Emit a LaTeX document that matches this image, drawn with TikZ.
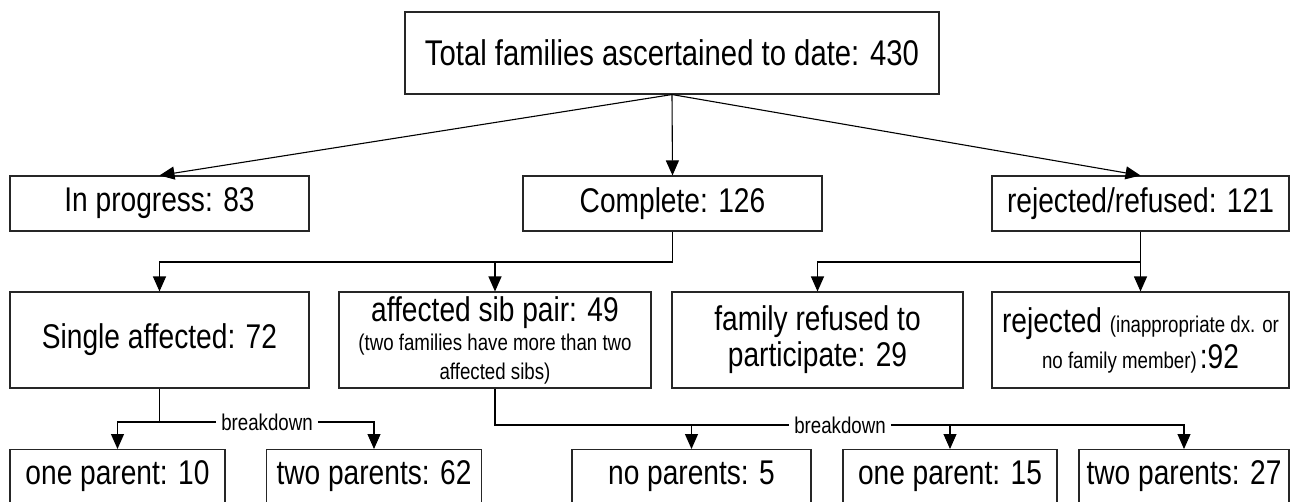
\documentclass[tikz,border=0pt]{standalone}
\usepackage{fontspec}
\setmainfont{Liberation Sans}[FakeStretch=0.82]
\usetikzlibrary{arrows.meta}
\newcommand{\bigf}{\fontsize{34.3}{36}\selectfont}
\newcommand{\topf}{\fontsize{35.7}{38}\selectfont}
\newcommand{\smallf}{\fontsize{22.8}{29}\selectfont}
\begin{document}
\begin{tikzpicture}[x=1pt,y=-1pt,
  box/.style={draw=black!85, line width=1.1pt, inner sep=0pt, align=center},
  lowbox/.style={box, anchor=north, minimum height=0pt, text height=35pt, text depth=45pt, font=\bigf},
  conn/.style={line width=1.1pt, draw=black},
  arr/.style={conn, -{Triangle[length=15pt,width=13pt]}},
  lbl/.style={fill=white, inner xsep=5pt, inner ysep=2pt, font=\smallf}]
\clip (0,0) rectangle (1290,501);
\fill[white] (0,0) rectangle (1290,501);
% top
\node[box, minimum width=534pt, minimum height=82pt, font=\topf] (top) at (672,53) {Total families ascertained to date: 430};
% row 2
\node[box, minimum width=299pt, minimum height=55pt, font=\bigf] (ip) at (159.5,203.5) {In progress: 83};
\node[box, minimum width=299pt, minimum height=55pt, font=\bigf] (comp) at (672.5,203.5) {Complete: 126};
\node[box, minimum width=297pt, minimum height=55pt, font=\bigf] (rr) at (1140.5,203.5) {rejected/refused: 121};
% row 3
\node[box, minimum width=299pt, minimum height=96pt, font=\bigf] (single) at (159.5,340) {Single affected: 72};
\node[box, minimum width=312pt, minimum height=96pt, font=\smallf] (sib) at (495,340) {{\fontsize{34.3}{29}\selectfont affected sib pair: 49}\\(two families have more than two\\affected sibs)};
\node[box, minimum width=291pt, minimum height=96pt, font=\bigf] (fam) at (817.5,340) {family refused to\\participate: 29};
\node[box, minimum width=297pt, minimum height=96pt, font=\bigf] (rej) at (1140.5,340) {rejected {\smallf (inappropriate dx. or}\\{\smallf no family member)}\hspace{3pt}:92};
% row 4
\node[lowbox, minimum width=215pt] (op10) at (117.5,449) {one parent: 10};
\node[lowbox, minimum width=215pt] (tp62) at (374,449) {two parents: 62};
\node[lowbox, minimum width=239pt] (np5) at (691.5,449) {no parents: 5};
\node[lowbox, minimum width=214pt] (op15) at (950,449) {one parent: 15};
\node[lowbox, minimum width=210pt] (tp27) at (1184,449) {two parents: 27};
% breakdown labels
\node[lbl] (bd1) at (267,422) {breakdown};
\node[lbl] (bd2) at (840,425) {breakdown};
% junction points
\coordinate (j1) at (672.5,262);
\coordinate (j2) at (1140.5,262);
% connectors
\draw[arr] (top.south) -- (ip.north);
\draw[arr] (top.south) -- (comp.north);
\draw[arr] (top.south) -- (rr.north);
\draw[conn] (comp.south) -- (j1);
\draw[arr] (j1) -| (single.north);
\draw[arr] (j1 -| sib.north) -- (sib.north);
\draw[conn] (rr.south) -- (j2);
\draw[arr] (j2) -| (fam.north);
\draw[arr] (j2) -- (rej.north);
\draw[conn] (single.south) -- (single.south |- bd1);
\draw[arr] (bd1.west) -| (op10.north);
\draw[arr] (bd1.east) -| (tp62.north);
\draw[conn] (sib.south) |- (bd2.west);
\draw[arr] (np5.north |- bd2) -- (np5.north);
\draw[arr] (op15.north |- bd2) -- (op15.north);
\draw[arr] (bd2.east) -| (tp27.north);
\end{tikzpicture}
\end{document}
